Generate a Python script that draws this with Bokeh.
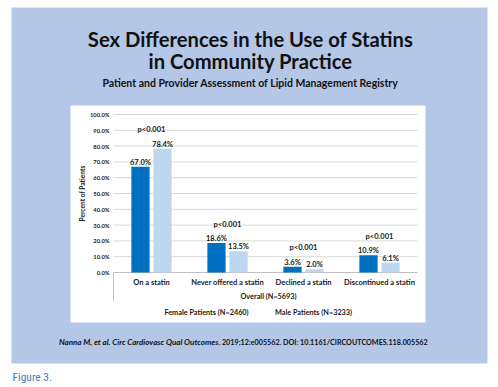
import numpy as np
from bokeh.plotting import figure
from bokeh.models import Range1d
from bokeh.core.properties import value
from bokeh.embed import file_html
from bokeh.resources import INLINE

# ---------------- data ----------------
categories = ["On a statin", "Never offered a statin", "Declined a statin", "Discontinued a statin"]
female = [67.0, 18.6, 3.6, 10.9]
male = [78.4, 13.5, 2.0, 6.1]
p_labels = ["p<0.001", "p<0.001", "p<0.001", "p<0.001"]
y_ticks = [0, 10, 20, 30, 40, 50, 60, 70, 80, 90, 100]
y_tick_labels = ["0.0%", "10.0%", "20.0%", "30.0%", "40.0%", "50.0%", "60.0%", "70.0%", "80.0%", "90.0%", "100.0%"]
y_axis_label = "Percent of Patients"
group_label = "Overall (N=5693)"
series_names = ["Female Patients (N=2460)", "Male Patients (N=3233)"]
title_lines = ["Sex Differences in the Use of Statins", "in Community Practice"]
subtitle = "Patient and Provider Assessment of Lipid Management Registry"
citation_italic = "Nanna M, et al. Circ Cardiovasc Qual Outcomes"
citation_rest = ". 2019;12:e005562. DOI: 10.1161/CIRCOUTCOMES.118.005562"
caption = "Figure 3."

# ---------------- layout (canvas pixels) ----------------
W, H = 498, 387
AX_L, AX_R = 113, 417      # category axis extent
Y0_PX, Y100_PX = 272, 114  # 0% and 100% positions
FEMALE_C = "#0070c0"
MALE_C = "#bdd7ee"
PANEL_C = "#b4c7e7"
TXT = "#1a1a1a"
FONT = value("Lato")

p = figure(width=W, height=H, x_range=Range1d(0, W), y_range=Range1d(H, 0),
           min_border=0, toolbar_location=None, output_backend="svg",
           x_axis_location=None, y_axis_location=None, title=None)
p.grid.visible = False
p.outline_line_color = None
p.background_fill_color = "white"
p.border_fill_color = "white"

ncat = len(categories)
cat_px = (AX_R - AX_L) / ncat
pct_px = (Y0_PX - Y100_PX) / 100.0
p.extra_x_ranges["cat"] = Range1d(-AX_L / cat_px, (W - AX_L) / cat_px)
p.extra_y_ranges["pct"] = Range1d(-(H - Y0_PX) / pct_px, Y0_PX / pct_px)
PX = 1.0 / pct_px  # one pixel in pct units
CX = 1.0 / cat_px  # one pixel in category units

# panels
p.quad(left=11, right=487, top=7, bottom=363, fill_color=PANEL_C, line_color=None)
p.quad(left=70, right=425, top=105, bottom=322, fill_color="white", line_color=None)

# titles
p.text(x=[250, 250], y=[38, 60], text=title_lines, text_font=FONT, text_font_style="bold",
       text_font_size="20.2px", text_align="center", text_baseline="middle", text_color="#111111")
p.text(x=[250], y=[82], text=[subtitle], text_font=FONT, text_font_style="bold",
       text_font_size="10.5px", text_align="center", text_baseline="middle", text_color="#111111")

# citation
p.text(x=[218], y=[341.5], text=[citation_italic], text_font=FONT, text_font_style="bold italic",
       text_font_size="8px", text_align="right", text_baseline="middle", text_color="#111111")
p.text(x=[218], y=[341.5], text=[citation_rest], text_font=FONT, text_font_style="bold",
       text_font_size="7.2px", text_align="left", text_baseline="middle", text_color="#111111")

# caption
p.text(x=[12], y=[376], text=[caption], text_font=value("Liberation Sans Narrow, Roboto Condensed, Roboto"),
       text_font_size="11.5px", text_align="left", text_baseline="middle", text_color="#4a7ab5")

# ---------------- chart ----------------
kw = dict(x_range_name="cat", y_range_name="pct")
idx = np.arange(ncat) + 0.5

grid_vals = [t for t in y_ticks if t > 0]
p.segment(x0=[0] * len(grid_vals), x1=[ncat] * len(grid_vals), y0=grid_vals, y1=grid_vals,
          line_color="#d9d9d9", line_width=1, **kw)
p.segment(x0=[0], x1=[ncat], y0=[0], y1=[0], line_color="#bfbfbf", line_width=1, **kw)
p.segment(x0=[0], x1=[0], y0=[0], y1=[-28 * PX], line_color="#bfbfbf", line_width=1, **kw)

off = 0.145
bw = 0.24
p.vbar(x=idx - off, top=female, bottom=0, width=bw, fill_color=FEMALE_C, line_color=None, **kw)
p.vbar(x=idx + off, top=male, bottom=0, width=bw, fill_color=MALE_C, line_color=None, **kw)

lab_kw = dict(text_font=FONT, text_font_style="bold", text_align="center", text_baseline="middle",
              text_color=TXT, **kw)
p.text(x=idx - off, y=[v + 4.5 * PX for v in female], text=[f"{v:.1f}%" for v in female],
       text_font_size="7.5px", **lab_kw)
p.text(x=idx + off, y=[v + 4.5 * PX for v in male], text=[f"{v:.1f}%" for v in male],
       text_font_size="7.5px", **lab_kw)
p.text(x=idx, y=[max(a, b) + 19 * PX for a, b in zip(female, male)], text=p_labels,
       text_font_size="7.5px", **lab_kw)

# y tick labels
p.text(x=[-4 * CX] * len(y_ticks), y=y_ticks, text=y_tick_labels, text_font=FONT,
       text_font_style="bold", text_font_size="5.8px", text_align="right", text_baseline="middle",
       text_color=TXT, **kw)
p.text(x=[-32 * CX], y=[50], text=[y_axis_label], angle=np.pi / 2, text_font=FONT,
       text_font_style="bold", text_font_size="6.6px", text_align="center", text_baseline="middle",
       text_color=TXT, **kw)

# category labels
p.text(x=idx, y=[-10 * PX] * ncat, text=categories, text_font_size="7.5px", **lab_kw)
p.text(x=[ncat / 2 + 3 * CX], y=[-24 * PX], text=[group_label], text_font_size="7.3px", **lab_kw)

# legend (text only, as in the original)
p.text(x=[ncat / 2 - 59 * CX, ncat / 2 + 48 * CX], y=[-40 * PX, -40 * PX], text=series_names,
       text_font_size="7.3px", **lab_kw)

open("out.html", "w").write(file_html(p, INLINE))
